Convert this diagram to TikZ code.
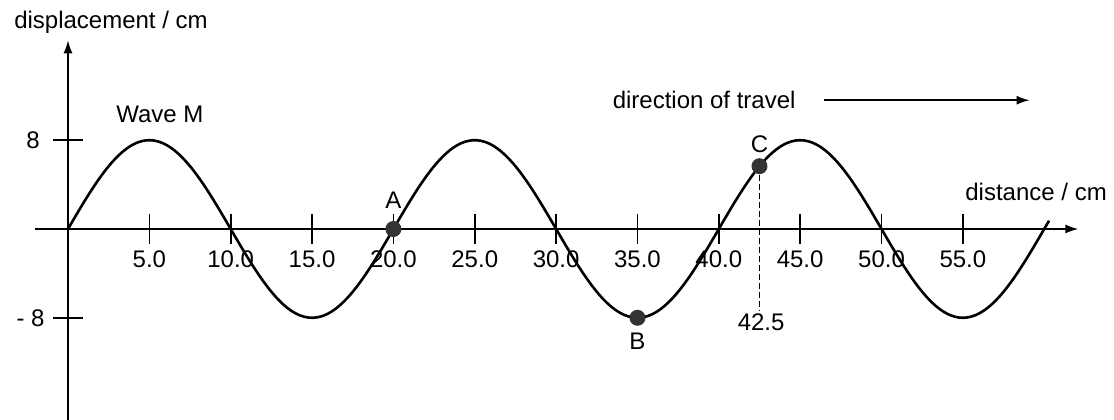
\documentclass[tikz,border=0pt]{standalone}
\usepackage{fontspec}
\setmainfont{Liberation Sans}
\usetikzlibrary{positioning, arrows.meta, calc}

\begin{document}
\begin{tikzpicture}[x=8.135pt, y=5.55pt,
        axis/.style={line width=0.8pt, -{Latex[length=6.5pt,width=4.5pt]}},
        wave/.style={line width=1.3pt},
        dot/.style={circle, fill=black!80, inner sep=0pt, minimum size=8pt},
        lbl/.style={font=\fontsize{12}{14}\selectfont, inner sep=1pt}]
    \useasboundingbox (-4.18,-17.2) rectangle (64.29,20.63);
    % Axes
    \draw[axis] (-2,0) -- (62.1,0);
    \draw[axis] (0,-17.2) -- (0,17);
    \node[lbl] (ylab) at (2.64,18.65) {displacement / cm};
    \node[lbl] (xlab) at (59.5,3.33) {distance / cm};
    % Ticks on the distance axis
    \foreach \x in {5,10,...,55} {
        \draw[line width=0.8pt] (\x,-1.35) -- (\x,1.35);
        \node[lbl] (t\x) at (\x,-2.7) {\x.0};
    }
    % Ticks on the displacement axis
    \draw[line width=0.8pt] (-0.9,8) -- (0.9,8);
    \draw[line width=0.8pt] (-0.9,-8) -- (0.9,-8);
    \node[lbl] (ytop) at (-2.15,8) {8};
    \node[lbl] (ybot) at (-2.3,-8) {- 8};
    % The wave
    \draw[wave] plot[domain=0:60.3, samples=241, smooth] (\x,{8*sin(18*\x)});
    \node[lbl] (name) at (5.65,10.3) {Wave M};
    % Points on the wave
    \node[dot] (A) at (20,0) {};
    \node[dot] (B) at (35,-8) {};
    \node[dot] (C) at (42.5,{8*sin(765)}) {};
    \node[lbl, above=5pt of A] (la) {A};
    \node[lbl, below=2pt of B] (lb) {B};
    \node[lbl, above=1.5pt of C] (lc) {C};
    \node[lbl] (xc) at (42.6,-8.4) {42.5};
    \draw[line width=0.8pt, dash pattern=on 3pt off 1.5pt] (C) -- (C |- xc.north);
    % Direction of travel
    \node[lbl] (dir) at (39.1,11.6) {direction of travel};
    \coordinate (dirend) at (59.1,11.6);
    \draw[axis] ([xshift=13pt]dir.east) -- (dirend);
\end{tikzpicture}
\end{document}
